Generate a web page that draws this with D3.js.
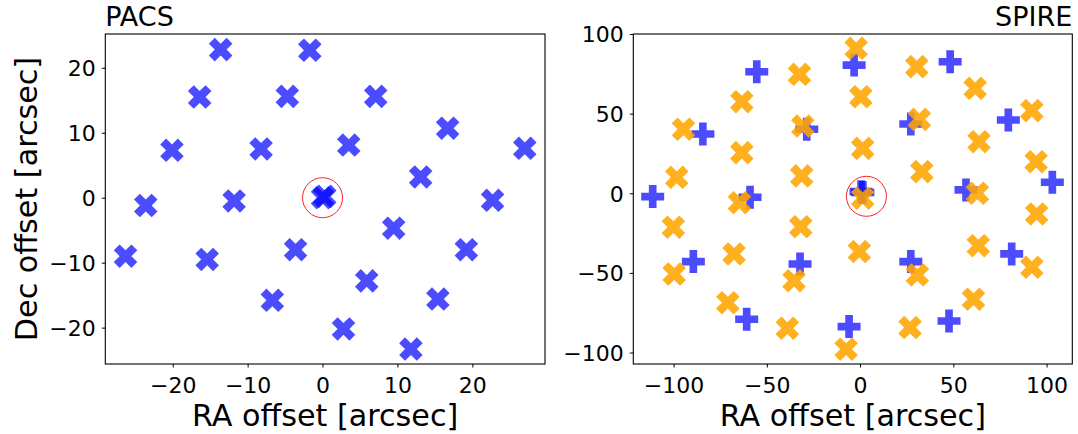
<!DOCTYPE html>
<html>
<head>
<meta charset="utf-8">
<script src="https://cdn.jsdelivr.net/npm/d3@7"></script>
<style>
  body { margin: 0; background: #fff; }
  text { font-family: "DejaVu Sans", sans-serif; fill: #000; }
</style>
</head>
<body>
<script>
// PACS spaxels
const pacsX = [-13.6, -1.7, -16.4, -4.7, 7.1, 16.7, -20.1, -8.2, 3.5, 27.0, 13.1, -23.6, -11.8, 0.0, 0.3, 22.7, 9.5, -26.3, -15.4, -3.6, 19.2, 5.9, -6.7, 15.4, 2.8, 11.8];
const pacsY = [22.8, 22.7, 15.5, 15.6, 15.6, 10.7, 7.3, 7.5, 8.1, 7.6, 3.2, -1.2, -0.5, 0.0, 0.2, -0.4, -4.7, -9.0, -9.5, -8.0, -8.0, -12.8, -15.8, -15.6, -20.2, -23.3];

// SPIRE long wavelength detectors (blue plus)
const slwX = [-55.4, -3.2, 48.3, -84.3, -28.6, 27.2, 79.5, -111.2, -59.0, 0.5, 1.5, 56.8, 103.1, -89.4, -32.2, 27.2, 81.3, -60.8, -5.9, 47.7];
const slwY = [76.3, 80.5, 82.6, 37.2, 40.2, 43.5, 46.0, -2.1, -2.5, 1.0, 0.5, 2.1, 6.9, -42.9, -44.4, -42.9, -38.1, -79.1, -83.7, -80.2];

// SPIRE short wavelength detectors (orange x)
const sswX = [-2.1, -32.5, 30.4, -63.4, 0.4, 61.7, -94.7, -30.7, 31.8, 92.1, -63.4, 1.4, 63.8, -98.3, -31.3, 33.1, 94.4, -64.7, 1.4, 62.9, 94.7, -100.1, -31.8, 63.4, -67.6, -0.4, -99.7, -35.4, 30.7, 92.1, -70.9, 60.8, -39.0, 26.8, -7.5];
const sswY = [91.0, 74.7, 79.5, 57.5, 60.6, 65.9, 40.2, 42.2, 46.4, 51.9, 25.5, 28.2, 32.4, 10.0, 10.9, 13.6, 19.8, -5.9, -3.1, 0.0, -13.0, -21.3, -21.0, -32.9, -38.1, -36.6, -50.7, -54.9, -51.3, -46.5, -68.7, -66.5, -84.7, -84.3, -97.9];

const pacsTicks = [-20, -10, 0, 10, 20];
const spireTicks = [-100, -50, 0, 50, 100];
const pacsCentre = [0, 0];
const spireCentre = [3.4, -1.9];

const width = 1078, height = 434;

const svg = d3.select("body")
  .append("svg")
  .attr("width", width)
  .attr("height", height);

// filled plus marker, matplotlib style (arms 1/3 of size)
function plusPath(s) {
  const a = s / 6, b = s / 2;
  const pts = [[-a,-b],[a,-b],[a,-a],[b,-a],[b,a],[a,a],[a,b],[-a,b],[-a,a],[-b,a],[-b,-a],[-a,-a]];
  return "M" + pts.map(p => p.join(",")).join("L") + "Z";
}

function panel(opts) {
  const x = d3.scaleLinear().domain(opts.xDomain).range([opts.left, opts.right]);
  const y = d3.scaleLinear().domain(opts.yDomain).range([opts.bottom, opts.top]);

  const g = svg.append("g");

  opts.series.forEach(s => {
    g.selectAll(null)
      .data(d3.range(s.xs.length))
      .enter()
      .append("path")
      .attr("d", plusPath(s.size))
      .attr("fill", s.color)
      .attr("fill-opacity", s.alpha)
      .attr("transform", i => `translate(${x(s.xs[i])},${y(s.ys[i])}) rotate(${s.rotate})`);
  });

  // red circle round the centre
  g.append("circle")
    .attr("cx", x(opts.centre[0]))
    .attr("cy", y(opts.centre[1]))
    .attr("r", 20)
    .attr("fill", "none")
    .attr("stroke", "#ff2020")
    .attr("stroke-width", 1);

  // axes
  const xAxis = g.append("g")
    .attr("transform", `translate(0,${opts.bottom})`)
    .call(d3.axisBottom(x).tickValues(opts.xTicks).tickSize(3.5).tickSizeOuter(0).tickPadding(6));
  const yAxis = g.append("g")
    .attr("transform", `translate(${opts.left},0)`)
    .call(d3.axisLeft(y).tickValues(opts.yTicks).tickSize(3.5).tickSizeOuter(0).tickPadding(6));

  [xAxis, yAxis].forEach(a => {
    a.select(".domain").remove();
    a.selectAll(".tick line").attr("stroke", "#000").attr("stroke-width", 1);
    a.selectAll(".tick text")
      .attr("font-family", "DejaVu Sans, sans-serif")
      .attr("font-size", 22)
      .attr("fill", "#000");
  });
  xAxis.selectAll(".tick text").attr("dy", null).attr("y", 28.5);
  yAxis.selectAll(".tick text").attr("dy", "0.36em");

  // frame
  g.append("rect")
    .attr("x", opts.left)
    .attr("y", opts.top)
    .attr("width", opts.right - opts.left)
    .attr("height", opts.bottom - opts.top)
    .attr("fill", "none")
    .attr("stroke", "#000")
    .attr("stroke-width", 1.1);

  // titles and labels
  g.append("text")
    .attr("x", opts.titleRight ? opts.right : opts.left)
    .attr("y", 26)
    .attr("text-anchor", opts.titleRight ? "end" : "start")
    .attr("font-size", 27)
    .text(opts.title);

  g.append("text")
    .attr("x", (opts.left + opts.right) / 2)
    .attr("y", 426)
    .attr("text-anchor", "middle")
    .attr("font-size", 30.2)
    .text("RA offset [arcsec]");

  if (opts.yLabel) {
    g.append("text")
      .attr("transform", `translate(36.5,${(opts.top + opts.bottom) / 2}) rotate(-90)`)
      .attr("text-anchor", "middle")
      .attr("font-size", 30.2)
      .text(opts.yLabel);
  }
}

panel({
  left: 105.3, right: 545, top: 34, bottom: 364,
  xDomain: [-29.0, 29.7], yDomain: [-25.6, 25.2],
  xTicks: pacsTicks, yTicks: pacsTicks,
  centre: pacsCentre,
  title: "PACS", titleRight: false,
  yLabel: "Dec offset [arcsec]",
  series: [
    { xs: pacsX, ys: pacsY, color: "blue", alpha: 0.7, size: 25, rotate: 45 }
  ]
});

panel({
  left: 633.3, right: 1072.3, top: 34, bottom: 364,
  xDomain: [-121.6, 113.8], yDomain: [-107.2, 100.0],
  xTicks: spireTicks, yTicks: spireTicks,
  centre: spireCentre,
  title: "SPIRE", titleRight: true,
  series: [
    { xs: slwX, ys: slwY, color: "blue", alpha: 0.7, size: 23, rotate: 0 },
    { xs: sswX, ys: sswY, color: "orange", alpha: 0.88, size: 25, rotate: 45 }
  ]
});
</script>
</body>
</html>
